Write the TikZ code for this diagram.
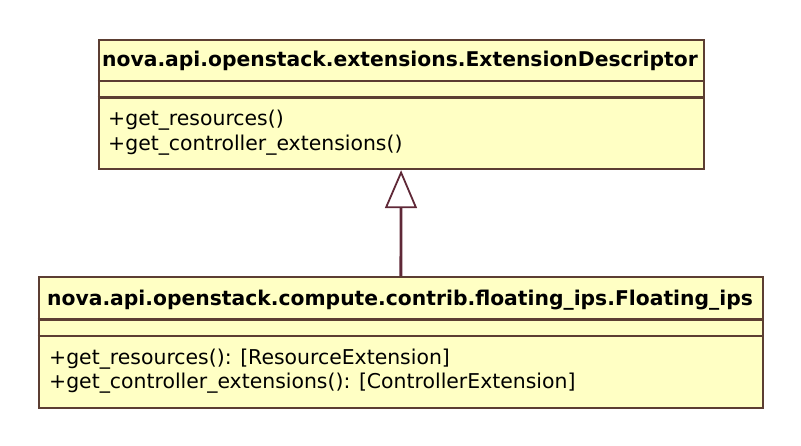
\documentclass[tikz,border=0pt]{standalone}
\usepackage{fontspec}
\setmainfont{DejaVu Sans}
\usetikzlibrary{arrows.meta}
\definecolor{umlfill}{RGB}{255,255,196}
\definecolor{umlline}{RGB}{92,62,50}
\definecolor{arrowline}{RGB}{95,40,55}
\tikzset{
  classbox/.style={draw=umlline, fill=umlfill, line width=2.2pt, rectangle, inner sep=0pt, anchor=north west},
  divider/.style={draw=umlline, line width=2.2pt},
  headtext/.style={font=\fontsize{20.3}{24}\selectfont\bfseries, inner sep=0pt, anchor=base},
  optext/.style={font=\fontsize{20.4}{24}\selectfont, inner sep=0pt, anchor=base west},
  inherit/.style={draw=arrowline, line width=2.8pt, -{Triangle[open, length=38pt, width=32pt, line width=1.8pt]}}
}
\begin{document}
\begin{tikzpicture}[x=1pt, y=-1pt]
\useasboundingbox (0,0) rectangle (801,445);
% superclass
\node[classbox, minimum width=605pt, minimum height=129.5pt] (sup) at (97.5,38.5) {};
\coordinate (supd1l) at (97.5,81); \coordinate (supd1r) at (702.5,81);
\coordinate (supd2l) at (97.5,97.5); \coordinate (supd2r) at (702.5,97.5);
\draw[divider] (supd1l) -- (supd1r);
\draw[divider] (supd2l) -- (supd2r);
\node[headtext] (suphead) at (400,66.5) {nova.api.openstack.extensions.ExtensionDescriptor};
\node[optext] (supop1) at (108,125) {+get\_resources()};
\node[optext] (supop2) at (108,150.5) {+get\_controller\_extensions()};
% subclass
\node[classbox, minimum width=724.5pt, minimum height=130.5pt] (sub) at (37.5,276) {};
\coordinate (subd1l) at (37.5,319.5); \coordinate (subd1r) at (762,319.5);
\coordinate (subd2l) at (37.5,336); \coordinate (subd2r) at (762,336);
\draw[divider] (subd1l) -- (subd1r);
\draw[divider] (subd2l) -- (subd2r);
\node[headtext] (subhead) at (400,305) {nova.api.openstack.compute.contrib.floating\_ips.Floating\_ips};
\node[optext] (subop1) at (49,364) {+get\_resources(): [ResourceExtension]};
\node[optext] (subop2) at (49,388.5) {+get\_controller\_extensions(): [ControllerExtension]};
% generalization
\draw[inherit] (sub.north) -- (sup.south);
\end{tikzpicture}
\end{document}
